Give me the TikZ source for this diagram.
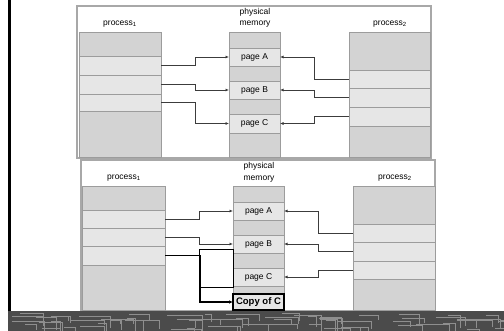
\documentclass[tikz,border=0pt]{standalone}
\usepackage{fontspec}
\setmainfont{Liberation Sans}
\usetikzlibrary{arrows.meta,calc}
\definecolor{CellDark}{HTML}{D3D3D3}
\definecolor{CellLight}{HTML}{E6E6E6}
\definecolor{CellEdge}{HTML}{9C9C9C}
\definecolor{LinkGrey}{HTML}{3C3C3C}
\definecolor{FrameGrey}{HTML}{A8A8A8}
\definecolor{BandGrey}{HTML}{4B4B4B}
\definecolor{TraceGrey}{HTML}{8E8E8E}
\tikzset{
  cell/.style={draw=CellEdge,line width=.8pt,inner sep=0pt,outer sep=0pt,
    font=\fontsize{8.5}{10}\selectfont},
  darkcell/.style={cell,fill=CellDark},
  lightcell/.style={cell,fill=CellLight},
  copycell/.style={draw=black,line width=1.3pt,fill=CellLight,inner sep=0pt,
    outer sep=0pt,font=\bfseries\fontsize{9.5}{11}\selectfont},
  panel/.style={draw=FrameGrey,line width=1.3pt,fill=white},
  link/.style={-{Latex[length=3.5pt,width=3pt]},draw=LinkGrey,line width=.9pt},
  copylink/.style={-{Latex[length=4pt,width=3.5pt]},draw=black,line width=1.4pt},
  oldroute/.style={draw=black,line width=.8pt},
  collabel/.style={font=\fontsize{8.5}{11.5}\selectfont,inner sep=0pt,align=center},
  trace/.style={draw=TraceGrey,line width=.7pt}
}
\newcommand{\Cell}[7]{%
  \node[#6,minimum width={(#4-#2)*1pt},minimum height={(#5-#3)*1pt}]
    (#1) at ({(#2+#4)/2},{(#3+#5)/2}) {#7};
}
\begin{document}
\begin{tikzpicture}[x=1pt,y=-1pt]
  \useasboundingbox (0,0) rectangle (504,331);
  % top panel: shared pages
  \draw[panel] (77,6) rectangle (431,158);
  \node[collabel] (tpa) at (120,24) {process\textsubscript{1}};
  \node[collabel] (tmem) at (255,18) {physical\\memory};
  \node[collabel] (tpb) at (390,24) {process\textsubscript{2}};
  \Cell{ta1}{79}{32}{161}{56}{darkcell}{}
  \Cell{ta2}{79}{56}{161}{75}{lightcell}{}
  \Cell{ta3}{79}{75}{161}{94}{lightcell}{}
  \Cell{ta4}{79}{94}{161}{111}{lightcell}{}
  \Cell{ta5}{79}{111}{161}{157}{darkcell}{}
  \Cell{tm1}{229}{32}{280}{48}{darkcell}{}
  \Cell{tmA}{229}{48}{280}{66}{lightcell}{page A}
  \Cell{tm2}{229}{66}{280}{81}{darkcell}{}
  \Cell{tmB}{229}{81}{280}{99}{lightcell}{page B}
  \Cell{tm3}{229}{99}{280}{114}{darkcell}{}
  \Cell{tmC}{229}{114}{280}{133}{lightcell}{page C}
  \Cell{tm4}{229}{133}{280}{157}{darkcell}{}
  \Cell{tb1}{349}{32}{430}{70}{darkcell}{}
  \Cell{tb2}{349}{70}{430}{88}{lightcell}{}
  \Cell{tb3}{349}{88}{430}{107}{lightcell}{}
  \Cell{tb4}{349}{107}{430}{126}{lightcell}{}
  \Cell{tb5}{349}{126}{430}{157}{darkcell}{}
  \draw[link] (ta2.east) -- ++(34,0) |- (tmA.west);
  \draw[link] (ta3.east) -- ++(34,0) |- (tmB.west);
  \draw[link] (ta4.east) -- ++(34,0) |- (tmC.west);
  \draw[link] (tb2.west) -- ++(-35,0) |- (tmA.east);
  \draw[link] (tb3.west) -- ++(-35,0) |- (tmB.east);
  \draw[link] (tb4.west) -- ++(-35,0) |- (tmC.east);
  % bottom panel: after the write to C
  \draw[panel] (81,160) rectangle (435,311);
  \node[collabel] (bpa) at (124,178) {process\textsubscript{1}};
  \node[collabel] (bmem) at (259,172.5) {physical\\memory};
  \node[collabel] (bpb) at (395,178) {process\textsubscript{2}};
  \Cell{ba1}{82}{186}{165}{210}{darkcell}{}
  \Cell{ba2}{82}{210}{165}{228}{lightcell}{}
  \Cell{ba3}{82}{228}{165}{246}{lightcell}{}
  \Cell{ba4}{82}{246}{165}{265}{lightcell}{}
  \Cell{ba5}{82}{265}{165}{310}{darkcell}{}
  \Cell{bm1}{233}{186}{284}{202}{darkcell}{}
  \Cell{bmA}{233}{202}{284}{220}{lightcell}{page A}
  \Cell{bm2}{233}{220}{284}{235}{darkcell}{}
  \Cell{bmB}{233}{235}{284}{253}{lightcell}{page B}
  \Cell{bm3}{233}{253}{284}{268}{darkcell}{}
  \Cell{bmC}{233}{268}{284}{286}{lightcell}{page C}
  \Cell{bm4}{233}{286}{284}{294}{darkcell}{}
  \Cell{bmCopy}{233}{294}{284}{310}{copycell}{Copy of C}
  \Cell{bb1}{353}{186}{435}{224}{darkcell}{}
  \Cell{bb2}{353}{224}{435}{242}{lightcell}{}
  \Cell{bb3}{353}{242}{435}{261}{lightcell}{}
  \Cell{bb4}{353}{261}{435}{279}{lightcell}{}
  \Cell{bb5}{353}{279}{435}{310}{darkcell}{}
  \draw[link] (ba2.east) -- ++(34,0) |- (bmA.west);
  \draw[link] (ba3.east) -- ++(34,0) |- (bmB.west);
  \draw[oldroute] (199,249) rectangle (233,287);
  \draw[copylink] (ba4.east) -- ++(35,0) |- (bmCopy.west);
  \draw[link] (bb2.west) -- ++(-35,0) |- (bmA.east);
  \draw[link] (bb3.west) -- ++(-35,0) |- (bmB.east);
  \draw[link] (bb4.west) -- ++(-35,0) |- (bmC.east);
  % slide decoration
  \draw[line width=2.5pt] (9.5,0) -- (9.5,311);
  \fill[BandGrey] (8,311) rectangle (504,331);
  \begin{scope}
    \clip (8,311) rectangle (504,331);
    \pgfmathsetseed{42}
    \foreach \k in {1,...,70}{
      \pgfmathsetmacro{\bx}{8+rnd*496}
      \pgfmathsetmacro{\by}{313+rnd*16}
      \pgfmathsetmacro{\bw}{6+rnd*30}
      \pgfmathsetmacro{\bh}{3+rnd*10}
      \draw[trace] (\bx,\by) -- ++(\bw,0) -- ++(0,\bh);
    }
  \end{scope}
\end{tikzpicture}
\end{document}
